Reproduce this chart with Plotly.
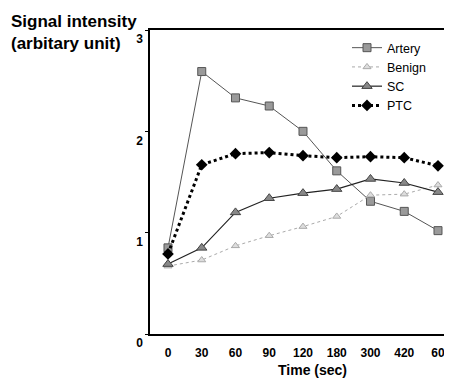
import plotly.graph_objects as go

time_labels = ["0", "30", "60", "90", "120", "180", "300", "420", "60"]
artery = [0.85, 2.59, 2.33, 2.25, 2.00, 1.61, 1.31, 1.21, 1.02]
benign = [0.67, 0.73, 0.87, 0.97, 1.06, 1.16, 1.37, 1.38, 1.47]
sc = [0.69, 0.85, 1.20, 1.34, 1.39, 1.43, 1.53, 1.49, 1.40]
ptc = [0.79, 1.67, 1.78, 1.79, 1.76, 1.74, 1.75, 1.74, 1.66]
y_ticks = [0, 1, 2, 3]

xpos = list(range(len(time_labels)))
FONT = "Liberation Sans, Arial, sans-serif"

# page body has an 8px default margin; figure is sized so the plot area lands
# at window x 150..452, y 30..334
L, T, B = 142, 22, 44
W, H = 444, 370
PW, PH = W - L, H - T - B

fig = go.Figure()
fig.add_trace(go.Scatter(
    x=xpos, y=artery, name="Artery", mode="lines+markers",
    line=dict(color="#555555", width=1),
    marker=dict(symbol="square", size=8, color="#9a9a9a", line=dict(color="#555555", width=1)),
))
fig.add_trace(go.Scatter(
    x=xpos, y=benign, name="Benign", mode="lines+markers",
    line=dict(color="#aaaaaa", width=1, dash="dot"),
    marker=dict(symbol="triangle-up", size=7, color="#dddddd", line=dict(color="#aaaaaa", width=1)),
))
fig.add_trace(go.Scatter(
    x=xpos, y=sc, name="SC", mode="lines+markers",
    line=dict(color="#222222", width=1.2),
    marker=dict(symbol="triangle-up", size=9, color="#888888", line=dict(color="#444444", width=1)),
))
fig.add_trace(go.Scatter(
    x=xpos, y=ptc, name="PTC", mode="lines+markers",
    line=dict(color="#000000", width=3, dash="dot"),
    marker=dict(symbol="diamond", size=9, color="#000000"),
))

fig.update_layout(
    width=W, height=H,
    margin=dict(l=L, r=0, t=T, b=B),
    paper_bgcolor="white", plot_bgcolor="white",
    font=dict(family=FONT, color="#000000"),
    showlegend=True,
    legend=dict(
        x=(339 - L) / PW, y=0.99, xanchor="left", yanchor="top",
        bgcolor="rgba(0,0,0,0)", font=dict(size=12.5, family=FONT),
        tracegroupgap=0, itemwidth=30,
    ),
    xaxis=dict(
        range=[-0.533, 8.415],
        tickmode="array", tickvals=xpos, ticktext=time_labels,
        showgrid=False, zeroline=False,
        showline=True, linecolor="#000000", linewidth=2, mirror=True,
        ticks="", ticklabelstandoff=7,
        tickfont=dict(size=12, family=FONT, weight="bold"),
    ),
    yaxis=dict(
        range=[0, 3],
        tickmode="array", tickvals=y_ticks, ticktext=[str(v) for v in y_ticks],
        showgrid=False, zeroline=False,
        showline=True, linecolor="#000000", linewidth=1.5,
        ticks="outside", ticklen=3, tickcolor="#000000",
        ticklabelshift=9, ticklabelstandoff=0,
        tickfont=dict(size=12, family=FONT, weight="bold"),
    ),
    annotations=[
        dict(text="Signal intensity<br>(arbitary unit)", xref="paper", yref="paper",
             x=(1 - L) / PW, y=1 + (T - 2) / PH, xanchor="left", yanchor="top", align="left",
             showarrow=False, font=dict(size=17, family=FONT, weight="bold")),
        dict(text="Time (sec)", xref="paper", yref="paper",
             x=(304 - L) / PW, y=-(361.5 - (H - B)) / PH, xanchor="center", yanchor="middle",
             showarrow=False, font=dict(size=14, family=FONT, weight="bold")),
    ],
)

fig.write_html("out.html")
